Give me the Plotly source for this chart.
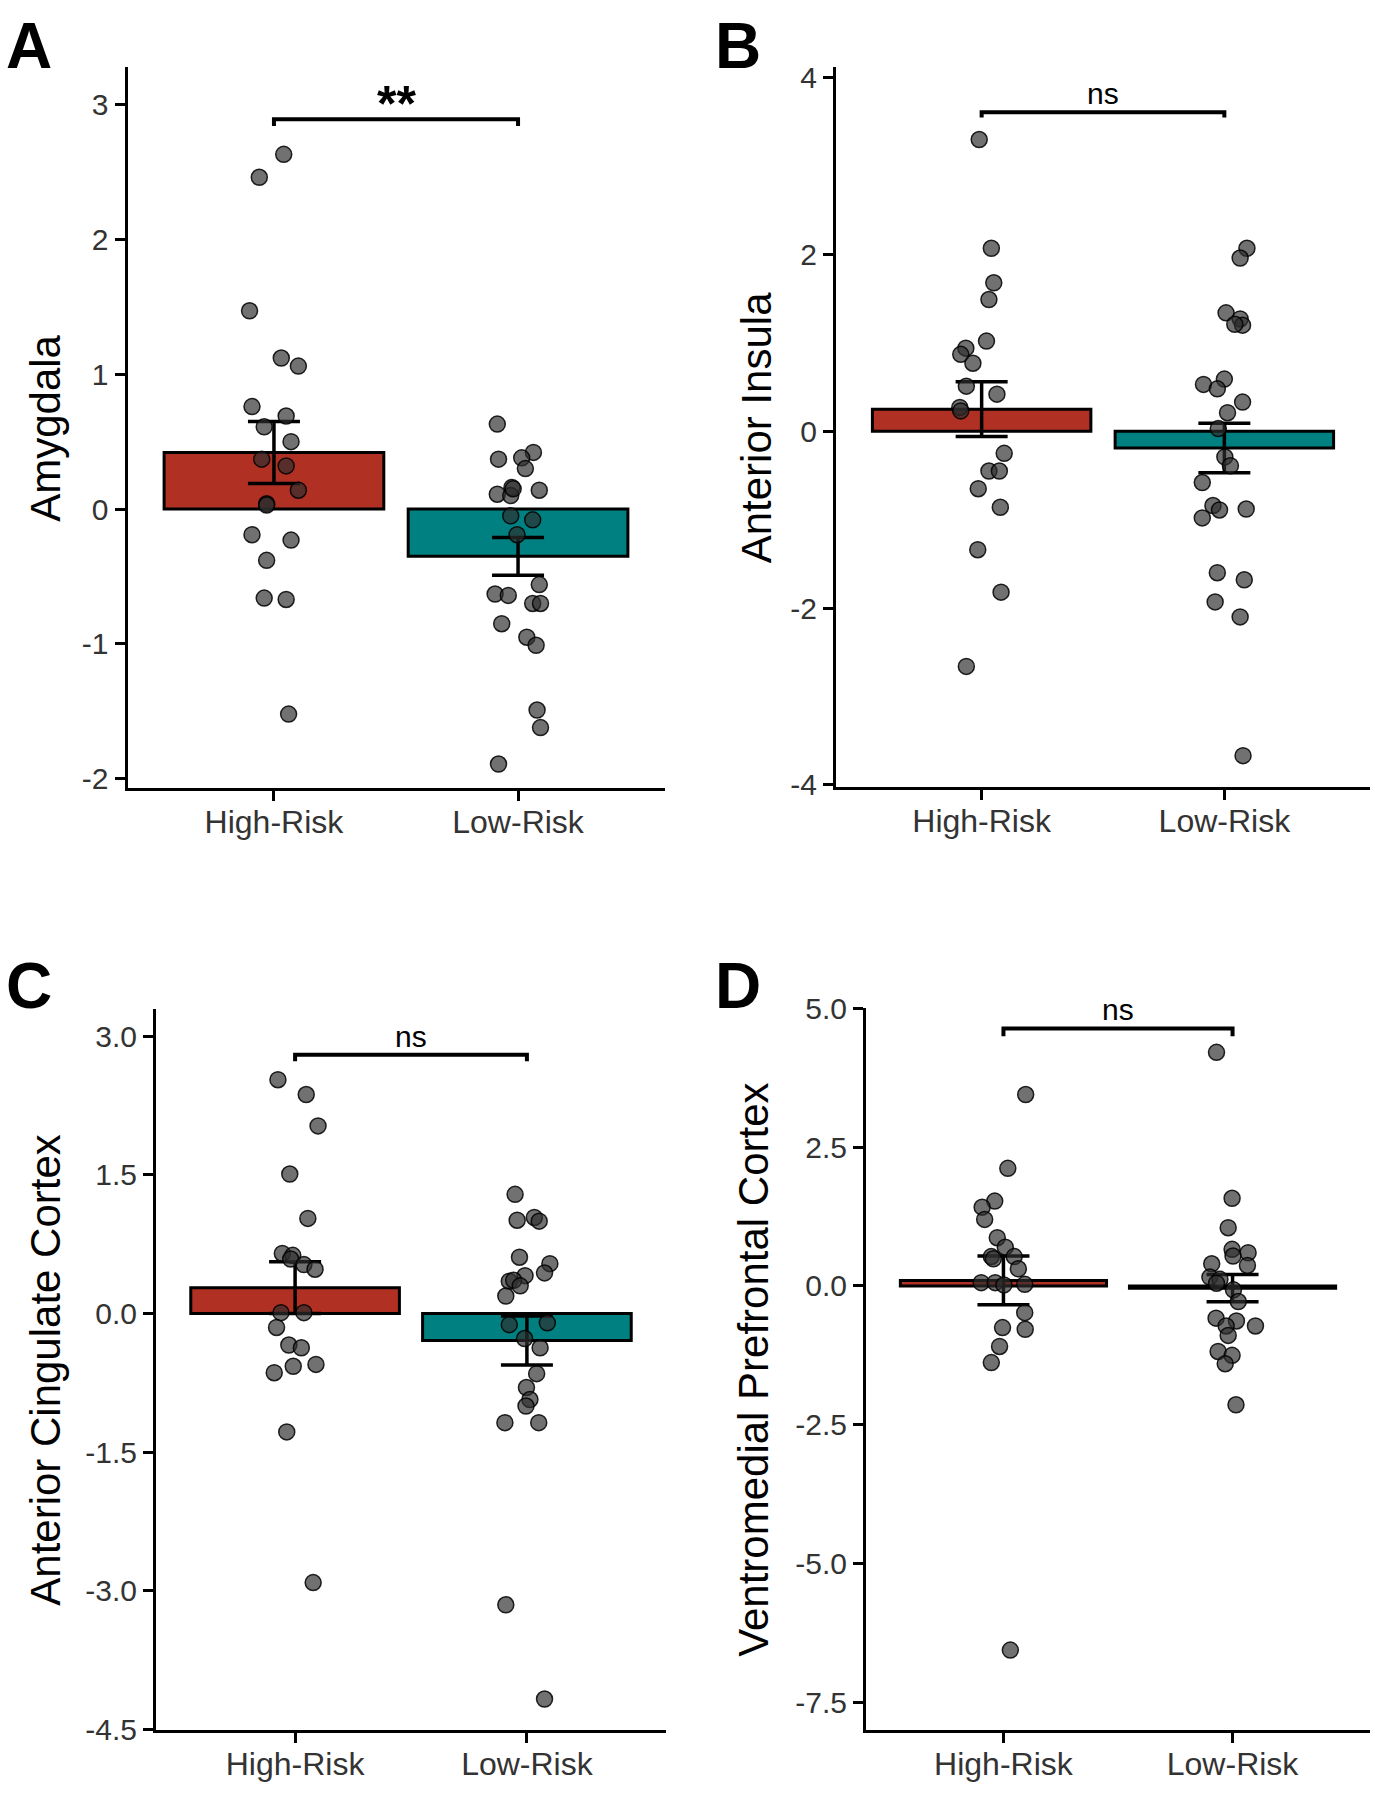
import plotly.graph_objects as go

# ---------------- data ----------------
groups = ["High-Risk", "Low-Risk"]

# Panel A: Amygdala
a_high = [2.63, 2.46, 1.47, 1.12, 1.06, 0.76, 0.69, 0.61, 0.50, 0.37, 0.32, 0.14, 0.04, 0.03,
          -0.19, -0.23, -0.38, -0.66, -0.67, -1.52]
a_high_jit = [0.04, -0.06, -0.10, 0.03, 0.10, -0.09, 0.05, -0.04, 0.07, -0.05, 0.05, 0.10, -0.03, -0.03,
              -0.09, 0.07, -0.03, -0.04, 0.05, 0.06]
a_low = [0.63, 0.42, 0.37, 0.38, 0.30, 0.16, 0.14, 0.11, 0.10, 0.15, -0.05, -0.08, -0.19, -0.56,
         -0.63, -0.64, -0.70, -0.70, -0.85, -0.95, -1.01, -1.49, -1.62, -1.89]
a_low_jit = [-0.085, 0.063, -0.08, 0.015, 0.03, -0.025, 0.087, -0.085, -0.03, -0.02, -0.03, 0.06, -0.004, 0.087,
             -0.094, -0.04, 0.06, 0.092, -0.067, 0.036, 0.074, 0.078, 0.092, -0.08]
a_mean = [0.42, -0.35]
a_se = [0.23, 0.14]
a_bracket = 2.89
a_label = "**"
a_ticks = [-2, -1, 0, 1, 2, 3]
a_ticklabels = ["-2", "-1", "0", "1", "2", "3"]

# Panel B: Anterior Insula
b_high = [3.30, 2.07, 1.68, 1.49, 1.02, 0.94, 0.87, 0.77, 0.51, 0.42, 0.27, 0.23,
          -0.25, -0.45, -0.45, -0.65, -0.86, -1.34, -1.82, -2.66]
b_high_jit = [-0.01, 0.04, 0.05, 0.03, 0.02, -0.065, -0.086, -0.036, -0.063, 0.063, -0.09, -0.086,
              0.093, 0.03, 0.073, -0.014, 0.077, -0.016, 0.08, -0.063]
b_low = [2.07, 1.96, 1.34, 1.27, 1.20, 1.21, 0.59, 0.53, 0.48, 0.33, 0.21, 0.03, -0.29, -0.39,
         -0.58, -0.84, -0.89, -0.88, -0.98, -1.60, -1.68, -1.93, -2.10, -3.67]
b_low_jit = [0.093, 0.065, 0.007, 0.065, 0.075, 0.043, 0.0, -0.086, -0.029, 0.075, 0.013, -0.025, 0.002, 0.025,
             -0.091, -0.047, -0.02, 0.09, -0.091, -0.029, 0.082, -0.038, 0.065, 0.077]
b_mean = [0.25, -0.19]
b_se = [0.31, 0.28]
b_bracket = 3.61
b_label = "ns"
b_ticks = [-4, -2, 0, 2, 4]
b_ticklabels = ["-4", "-2", "0", "2", "4"]

# Panel C: Anterior Cingulate Cortex
c_high = [2.53, 2.37, 2.03, 1.51, 1.03, 0.65, 0.63, 0.59, 0.53, 0.48, 0.01, 0.01,
          -0.15, -0.34, -0.37, -0.64, -0.57, -0.55, -1.28, -2.91]
c_high_jit = [-0.074, 0.048, 0.099, -0.023, 0.055, -0.055, -0.01, -0.019, 0.038, 0.086, -0.061, 0.038,
              -0.08, -0.027, 0.027, -0.09, -0.008, 0.09, -0.036, 0.078]
c_low = [1.29, 1.01, 1.04, 1.00, 0.61, 0.54, 0.44, 0.41, 0.35, 0.36, 0.30, 0.19, -0.12, -0.10,
         -0.27, -0.37, -0.65, -0.80, -0.93, -1.00, -1.18, -1.18, -3.15, -4.17]
c_low_jit = [-0.051, -0.042, 0.032, 0.053, -0.032, 0.099, 0.076, -0.008, -0.076, -0.057, -0.029, -0.091, -0.076, 0.088,
             -0.01, 0.057, 0.042, -0.002, 0.013, -0.004, -0.095, 0.051, -0.091, 0.076]
c_mean = [0.28, -0.29]
c_se = [0.28, 0.265]
c_bracket = 2.80
c_label = "ns"
c_ticks = [-4.5, -3.0, -1.5, 0.0, 1.5, 3.0]
c_ticklabels = ["-4.5", "-3.0", "-1.5", "0.0", "1.5", "3.0"]

# Panel D: Ventromedial Prefrontal Cortex
d_high = [3.45, 2.12, 1.53, 1.42, 1.20, 0.87, 0.70, 0.53, 0.53, 0.49, 0.31, 0.06, 0.06, 0.03, 0.02,
          -0.48, -0.75, -0.78, -1.09, -1.38, -6.56]
d_high_jit = [0.097, 0.019, -0.038, -0.093, -0.082, -0.027, 0.008, -0.053, 0.047, -0.044, 0.065, -0.097, -0.036, 0.093, 0.002,
              0.093, -0.004, 0.095, -0.017, -0.053, 0.03]
d_low = [4.21, 1.58, 1.05, 0.66, 0.60, 0.54, 0.40, 0.37, 0.16, 0.12, 0.05, -0.07, -0.28, -0.58,
         -0.63, -0.72, -0.72, -0.89, -1.18, -1.25, -1.40, -2.14]
d_low_jit = [-0.07, -0.002, -0.019, -0.002, 0.068, 0.002, -0.091, 0.065, -0.099, -0.055, -0.07, 0.004, 0.025, -0.072,
             0.017, 0.1, -0.028, -0.019, -0.063, -0.002, -0.032, 0.015]
d_mean = [0.10, -0.04]
d_se = [0.44, 0.245]
d_bracket = 4.64
d_label = "ns"
d_ticks = [-7.5, -5.0, -2.5, 0.0, 2.5, 5.0]
d_ticklabels = ["-7.5", "-5.0", "-2.5", "0.0", "2.5", "5.0"]

# ---------------- layout / style ----------------
W, H = 1375, 1800
FONT = "Liberation Sans, Arial, Helvetica, sans-serif"
BAR_COLORS = ["#B03024", "#008080"]
TICK_COLOR = "#333333"

panels = [
    dict(letter="A", title="Amygdala", high=a_high, hj=a_high_jit, low=a_low, lj=a_low_jit,
         mean=a_mean, se=a_se, br=a_bracket, tip=0.05, lab=a_label, ticks=a_ticks, tl=a_ticklabels,
         px=(127.5, 664.5), py=(51, 785), yr=(-2.065, 3.277),
         title_pos=(45.5, 419), letter_pos=(29, 30)),
    dict(letter="B", title="Anterior Insula", high=b_high, hj=b_high_jit, low=b_low, lj=b_low_jit,
         mean=b_mean, se=b_se, br=b_bracket, tip=0.06, lab=b_label, ticks=b_ticks, tl=b_ticklabels,
         px=(836, 1370), py=(51, 784), yr=(-4.02, 4.12),
         title_pos=(756, 419), letter_pos=(738, 30)),
    dict(letter="C", title="Anterior Cingulate Cortex", high=c_high, hj=c_high_jit, low=c_low, lj=c_low_jit,
         mean=c_mean, se=c_se, br=c_bracket, tip=0.07, lab=c_label, ticks=c_ticks, tl=c_ticklabels,
         px=(156, 666), py=(1011, 1745), yr=(-4.505, 3.29),
         title_pos=(46, 1378), letter_pos=(29, 987)),
    dict(letter="D", title="Ventromedial Prefrontal Cortex", high=d_high, hj=d_high_jit, low=d_low, lj=d_low_jit,
         mean=d_mean, se=d_se, br=d_bracket, tip=0.14, lab=d_label, ticks=d_ticks, tl=d_ticklabels,
         px=(866, 1370), py=(1010, 1745), yr=(-8.0, 5.0),
         title_pos=(754, 1378), letter_pos=(738, 987)),
]

fig = go.Figure()
annotations = []
layout_axes = {}

for i, p in enumerate(panels):
    n = i + 1
    xa = "x" if n == 1 else f"x{n}"
    ya = "y" if n == 1 else f"y{n}"
    xkey = "xaxis" if n == 1 else f"xaxis{n}"
    ykey = "yaxis" if n == 1 else f"yaxis{n}"

    # bars
    fig.add_trace(go.Bar(
        x=[0, 1], y=p["mean"], width=0.9,
        marker=dict(color=BAR_COLORS, line=dict(color="black", width=3)),
        xaxis=xa, yaxis=ya, showlegend=False, hoverinfo="skip"))
    # error bars
    fig.add_trace(go.Scatter(
        x=[0, 1], y=p["mean"], mode="markers",
        marker=dict(size=1, color="rgba(0,0,0,0)"),
        error_y=dict(type="data", array=p["se"], color="black", thickness=3.5, width=26),
        xaxis=xa, yaxis=ya, showlegend=False, hoverinfo="skip"))
    # points
    xs = [0 + j for j in p["hj"]] + [1 + j for j in p["lj"]]
    ys = list(p["high"]) + list(p["low"])
    fig.add_trace(go.Scatter(
        x=xs, y=ys, mode="markers",
        marker=dict(size=16, color="rgba(45,45,45,0.68)", line=dict(color="rgba(0,0,0,0.85)", width=1.5)),
        xaxis=xa, yaxis=ya, showlegend=False, cliponaxis=False))
    # significance bracket
    fig.add_trace(go.Scatter(
        x=[0, 0, 1, 1], y=[p["br"] - p["tip"], p["br"], p["br"], p["br"] - p["tip"]],
        mode="lines", line=dict(color="black", width=4),
        xaxis=xa, yaxis=ya, showlegend=False, hoverinfo="skip"))

    is_star = p["lab"].startswith("*")
    annotations.append(dict(
        x=0.5, y=p["br"], xref=xa, yref=ya,
        text=(f"<b>{p['lab']}</b>" if is_star else p["lab"]), showarrow=False,
        xanchor="center", yanchor="bottom", yshift=(-15 if is_star else 0),
        font=dict(family=FONT, size=(50 if is_star else 30), color="black")))

    x0, x1 = p["px"]
    y0, y1 = p["py"]
    layout_axes[xkey] = dict(
        domain=[x0 / W, x1 / W], range=[-0.6, 1.6], anchor=ya,
        tickvals=[0, 1], ticktext=groups,
        showline=True, linecolor="black", linewidth=3, mirror=False,
        ticks="outside", ticklen=10, tickwidth=3, tickcolor="black",
        ticklabelstandoff=-6,
        tickfont=dict(family=FONT, size=32, color=TICK_COLOR),
        showgrid=False, zeroline=False, fixedrange=True)
    layout_axes[ykey] = dict(
        domain=[1 - y1 / H, 1 - y0 / H], range=list(p["yr"]), anchor=xa,
        tickvals=p["ticks"], ticktext=p["tl"],
        showline=True, linecolor="black", linewidth=3,
        ticks="outside", ticklen=10, tickwidth=3, tickcolor="black",
        ticklabelstandoff=0,
        tickfont=dict(family=FONT, size=30, color=TICK_COLOR),
        showgrid=False, zeroline=False, fixedrange=True)

    # axis title
    tx, ty = p["title_pos"]
    annotations.append(dict(
        x=tx / W, y=1 - ty / H, xref="paper", yref="paper", text=p["title"],
        textangle=-90, showarrow=False, xanchor="center", yanchor="middle",
        font=dict(family=FONT, size=42, color="black")))
    # panel letter
    lx, ly = p["letter_pos"]
    annotations.append(dict(
        x=lx / W, y=1 - ly / H, xref="paper", yref="paper", text=f"<b>{p['letter']}</b>",
        showarrow=False, xanchor="center", yanchor="middle",
        font=dict(family=FONT, size=64, color="black")))

fig.update_layout(
    width=W, height=H,
    margin=dict(l=0, r=0, t=0, b=0),
    paper_bgcolor="white", plot_bgcolor="white",
    barmode="overlay",
    annotations=annotations,
    **layout_axes)

fig.write_html("out.html", config={"displayModeBar": False},
               post_script="document.body.style.margin='0px';")
